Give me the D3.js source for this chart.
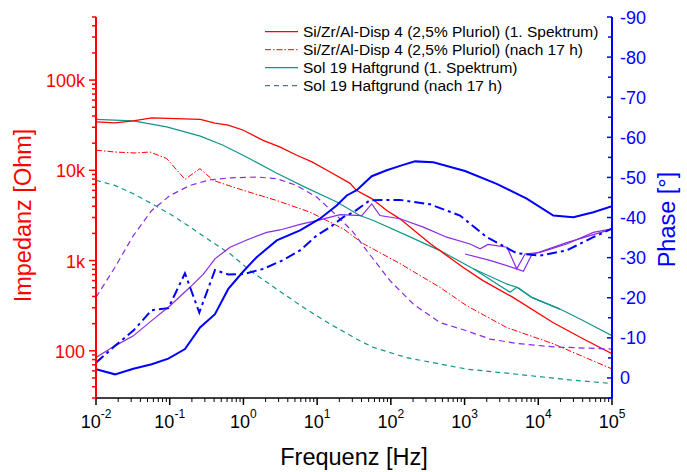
<!DOCTYPE html>
<html>
<head>
<meta charset="utf-8">
<script src="https://cdn.jsdelivr.net/npm/d3@7"></script>
<style>
    body { margin: 0; background: #fff; }
    svg text { font-family: "Liberation Sans", Arial, sans-serif; }
</style>
</head>
<body>
<div id="chart"></div>
<script>

// impedance |Z| [Ohm] vs frequency [Hz]
let fRed1 = [0.01, 0.018, 0.032, 0.057, 0.26, 0.41, 0.62, 1.0, 1.85, 3.1, 5.3, 8.5, 15, 28, 34, 55, 88, 133, 340, 950, 1780, 4540, 15800, 40400, 100000];
let zRed1 = [34400, 33600, 35300, 38100, 36600, 33300, 31600, 27800, 21500, 18200, 14700, 12400, 9570, 7170, 6000, 4860, 3590, 2900, 1545, 844, 600, 391, 206, 136, 93];

let fRed17 = [0.01, 0.018, 0.034, 0.054, 0.091, 0.161, 0.257, 0.39, 0.62, 1, 2.8, 8, 22.6, 41.9, 133, 464, 1070, 3730, 15800, 100000];
let zRed17 = [16700, 15960, 15560, 15960, 13500, 7940, 10450, 7740, 6810, 6000, 4640, 3440, 2250, 1545, 926, 505, 316, 181, 120, 63];

let fTeal1 = [0.01, 0.032, 0.091, 0.26, 0.53, 1.1, 2.8, 6.5, 18.5, 38, 58, 164, 465, 1315, 3730, 5360, 8150, 19700, 36800, 100000];
let zTeal1 = [36600, 35300, 30300, 23900, 18970, 14070, 9330, 6640, 4450, 3160, 2780, 1900, 1290, 810, 551, 498, 391, 290, 225, 147];
// second sweep overlapping at high frequency
let fTeal1b = [1315, 4140, 5100, 8150, 19700];
let zTeal1b = [810, 445, 505, 391, 290];

let fTeal17 = [0.01, 0.018, 0.032, 0.057, 0.1, 0.19, 0.35, 0.66, 1.23, 2.8, 6.5, 15, 38, 58, 164, 1070, 5100, 29900, 100000];
let zTeal17 = [7740, 6810, 5510, 4270, 3300, 2350, 1670, 1190, 774, 485, 303, 198, 129, 109, 84, 62.7, 55, 47.2, 43.4];

// phase [deg]
let fBlue = [0.01, 0.0181, 0.0321, 0.057, 0.0957, 0.161, 0.258, 0.411, 0.623, 1.0, 1.51, 2.83, 5.86, 10.9, 18.4, 25.2, 34.4, 55, 87.9, 140, 213, 377, 1014, 2730, 6970, 16000, 29900, 55800, 100000];
let pBlue = [-2.2, -0.9, -2.3, -3.4, -4.8, -7.2, -12.6, -15.9, -22.2, -26.6, -30.1, -34.3, -36.8, -39.7, -43, -45.5, -46.8, -50.3, -51.8, -53, -54, -53.8, -51.6, -48.4, -44.7, -40.5, -40.1, -41.3, -42.8];

let fBlueDD = [0.01, 0.0181, 0.0321, 0.057, 0.0957, 0.161, 0.252, 0.411, 0.623, 1.0, 1.86, 3.47, 5.86, 9.86, 15, 22.6, 31, 52, 133, 340, 867, 2000, 5100, 10600, 24300, 55800, 100000];
let pBlueDD = [-3.8, -8, -11.8, -16.9, -17.4, -26.1, -16.3, -26.9, -25.8, -25.9, -27.2, -29.4, -31.8, -35.5, -37.6, -40.1, -41.3, -44.3, -44.4, -43.3, -40.5, -35.1, -31.1, -30.5, -31.8, -35.1, -37.2];

let fViolet = [0.01, 0.0181, 0.0321, 0.057, 0.101, 0.188, 0.286, 0.411, 0.658, 1.11, 2.07, 3.13, 5.86, 10.9, 20.4, 40.3, 55, 71.2, 133, 276, 572, 1186, 1622, 2080, 3770, 5100, 6610, 10570, 24300, 55800, 100000];
let pViolet = [-5.1, -8, -10.5, -14.3, -18, -22.6, -25.9, -29.7, -32.6, -34.4, -36.3, -36.9, -38.3, -39.4, -40.7, -40.5, -43.4, -40.5, -39.7, -37.6, -35.1, -33.4, -32.2, -33.3, -32.6, -27.2, -30.9, -31.3, -33.4, -36.3, -37.2];
let fVioletB = [1014, 2210, 5100, 6270, 8150, 24300, 84900];
let pVioletB = [-30.9, -29.3, -27.2, -26.6, -30.75, -33.75, -36.75];

let fVioletDash = [0.01, 0.0181, 0.0321, 0.057, 0.101, 0.188, 0.352, 0.658, 1.51, 2.83, 5.28, 9.86, 18.4, 31, 47.1, 97.5, 202, 465, 1070, 2210, 5100, 16000, 100000];
let pVioletDash = [-20.1, -27.6, -35.5, -41.75, -45.5, -48, -49.4, -49.9, -50.1, -49.7, -48, -45.1, -40.5, -36.3, -31.75, -24.25, -18.4, -13.8, -11.75, -9.7, -8.6, -7.75, -7.2];

// axis ticks
let xTicks = [-2, -1, 0, 1, 2, 3, 4, 5];
let zTicks = [100, 1000, 10000, 100000];
let zTickLabels = ["100", "1k", "10k", "100k"];
let pTicks = [0, -10, -20, -30, -40, -50, -60, -70, -80, -90];

let legendNames = [
    "Si/Zr/Al-Disp 4 (2,5% Pluriol) (1. Spektrum)",
    "Si/Zr/Al-Disp 4 (2,5% Pluriol) (nach 17 h)",
    "Sol 19 Haftgrund (1. Spektrum)",
    "Sol 19 Haftgrund (nach 17 h)"
];

let red = "#ff0000", teal = "#12968a", blue = "#0000ff", violet = "#8a2be2";

let margin = {top: 17, right: 75, bottom: 74, left: 96};
let W = 687, H = 472;
let width = W - margin.left - margin.right;
let height = H - margin.top - margin.bottom;
let tickFont = 18;

let svg = d3.select("#chart").append("svg")
    .attr("width", W)
    .attr("height", H)
    .append("g")
    .attr("transform", "translate(" + margin.left + "," + margin.top + ")");

let x = d3.scaleLog().domain([0.01, 100000]).range([0, width]);
let yZ = d3.scaleLog().domain([30, 500000]).range([height, 0]);
let yP = d3.scaleLinear().domain([5, -90]).range([height, 0]);

svg.append("clipPath").attr("id", "clip")
    .append("rect").attr("width", width).attr("height", height);

let plot = svg.append("g").attr("clip-path", "url(#clip)");

function drawLine(fs, vs, yScale, color, w, dash) {
    let pts = fs.map((f, i) => [f, vs[i]]);
    let line = d3.line().x(d => x(d[0])).y(d => yScale(d[1]));
    plot.append("path")
        .datum(pts)
        .attr("d", line)
        .attr("fill", "none")
        .attr("stroke", color)
        .attr("stroke-width", w)
        .attr("stroke-dasharray", dash || null);
}

// impedance curves
drawLine(fTeal17, zTeal17, yZ, teal, 1.2, "5,4");
drawLine(fTeal1, zTeal1, yZ, teal, 1.2);
drawLine(fTeal1b, zTeal1b, yZ, teal, 1.2);
drawLine(fRed17, zRed17, yZ, red, 1, "6,2,1.5,2");
drawLine(fRed1, zRed1, yZ, red, 1.3);

// phase curves
drawLine(fVioletDash, pVioletDash, yP, violet, 1.2, "6,4");
drawLine(fViolet, pViolet, yP, violet, 1.2);
drawLine(fVioletB, pVioletB, yP, violet, 1.2);
drawLine(fBlueDD, pBlueDD, yP, blue, 2, "10,4,3,4");
drawLine(fBlue, pBlue, yP, blue, 2);

// minor ticks helper
function minorValues(lo, hi) {
    let out = [];
    for (let e = lo; e <= hi; e++) {
        for (let m = 1; m < 10; m++) out.push(m * Math.pow(10, e));
    }
    return out;
}

// x axis
let xAxis = svg.append("g").attr("transform", "translate(0," + height + ")");
xAxis.append("line").attr("x1", 0).attr("x2", width).attr("stroke", "#000").attr("stroke-width", 1.5);
xAxis.selectAll(".xminor")
    .data(minorValues(-2, 4).filter(v => v > 0.01 && v < 100000 && !xTicks.includes(Math.round(Math.log10(v) * 1000) / 1000)))
    .enter().append("line")
    .attr("x1", d => x(d)).attr("x2", d => x(d))
    .attr("y1", 0).attr("y2", 4)
    .attr("stroke", "#000").attr("stroke-width", 1);
xAxis.selectAll(".xmajor")
    .data(xTicks).enter().append("line")
    .attr("x1", d => x(Math.pow(10, d))).attr("x2", d => x(Math.pow(10, d)))
    .attr("y1", 0).attr("y2", 7)
    .attr("stroke", "#000").attr("stroke-width", 1.5);
let xl = xAxis.selectAll(".xlab")
    .data(xTicks).enter().append("text")
    .attr("x", d => x(Math.pow(10, d)))
    .attr("y", 30)
    .attr("text-anchor", "middle")
    .attr("font-size", tickFont)
    .attr("fill", "#000");
xl.append("tspan").text("10");
xl.append("tspan").attr("dy", -10).attr("font-size", 12).text(d => d);

svg.append("text")
    .attr("x", width / 2)
    .attr("y", height + 67)
    .attr("text-anchor", "middle")
    .attr("font-size", 23.5)
    .text("Frequenz [Hz]");

// left axis (impedance)
let zAxis = svg.append("g");
zAxis.selectAll(".zminor")
    .data(minorValues(1, 5).filter(v => v >= 30 && v <= 500000 && !zTicks.includes(v)))
    .enter().append("line")
    .attr("x1", -4).attr("x2", 0)
    .attr("y1", d => yZ(d)).attr("y2", d => yZ(d))
    .attr("stroke", red).attr("stroke-width", 1.5);
zAxis.selectAll(".zmajor")
    .data(zTicks).enter().append("line")
    .attr("x1", -7).attr("x2", 0)
    .attr("y1", d => yZ(d)).attr("y2", d => yZ(d))
    .attr("stroke", red).attr("stroke-width", 1.5);
zAxis.selectAll(".zlab")
    .data(zTicks).enter().append("text")
    .attr("x", -11)
    .attr("y", d => yZ(d) + 7)
    .attr("text-anchor", "end")
    .attr("font-size", tickFont)
    .attr("fill", red)
    .text((d, i) => zTickLabels[i]);
zAxis.append("line").attr("x1", 0).attr("x2", 0).attr("y1", 0).attr("y2", height)
    .attr("stroke", red).attr("stroke-width", 2);

svg.append("text")
    .attr("transform", "translate(" + (-65) + "," + (height / 2 + 8) + ") rotate(-90)")
    .attr("text-anchor", "middle")
    .attr("font-size", 23.5)
    .attr("fill", red)
    .text("Impedanz [Ohm]");

// right axis (phase)
let pAxis = svg.append("g").attr("transform", "translate(" + width + ",0)");
let pMinor = [];
for (let v = 5; v >= -85; v -= 10) pMinor.push(v);
pAxis.selectAll(".pminor")
    .data(pMinor).enter().append("line")
    .attr("x1", -4).attr("x2", 0)
    .attr("y1", d => yP(d)).attr("y2", d => yP(d))
    .attr("stroke", blue).attr("stroke-width", 1.5);
pAxis.selectAll(".pmajor")
    .data(pTicks).enter().append("line")
    .attr("x1", -5).attr("x2", 0)
    .attr("y1", d => yP(d)).attr("y2", d => yP(d))
    .attr("stroke", blue).attr("stroke-width", 1.5);
pAxis.selectAll(".plab")
    .data(pTicks).enter().append("text")
    .attr("x", 8)
    .attr("y", d => yP(d) + 6.5)
    .attr("font-size", tickFont)
    .attr("fill", blue)
    .text(d => d);
pAxis.append("line").attr("x1", 0).attr("x2", 0).attr("y1", 0).attr("y2", height)
    .attr("stroke", blue).attr("stroke-width", 2);

svg.append("text")
    .attr("transform", "translate(" + (width + 63) + "," + (yP(-39.5)) + ") rotate(-90)")
    .attr("text-anchor", "middle")
    .attr("font-size", 23.5)
    .attr("fill", blue)
    .text("Phase [°]");

// legend
let legendStyle = [
    {color: red, dash: null, w: 1.3},
    {color: red, dash: "6,2,1.5,2", w: 1},
    {color: teal, dash: null, w: 1.2},
    {color: teal, dash: "5,4", w: 1.2}
];
let legend = svg.append("g").attr("transform", "translate(" + (265 - margin.left) + "," + (31.7 - margin.top) + ")");
legendNames.forEach((name, i) => {
    let row = legend.append("g").attr("transform", "translate(0," + (i * 18) + ")");
    row.append("line")
        .attr("x1", 0).attr("x2", 33)
        .attr("stroke", legendStyle[i].color)
        .attr("stroke-width", legendStyle[i].w)
        .attr("stroke-dasharray", legendStyle[i].dash);
    row.append("text")
        .attr("x", 38)
        .attr("y", 5)
        .attr("font-size", 15.5)
        .attr("fill", "#000")
        .text(name);
});

</script>
</body>
</html>
